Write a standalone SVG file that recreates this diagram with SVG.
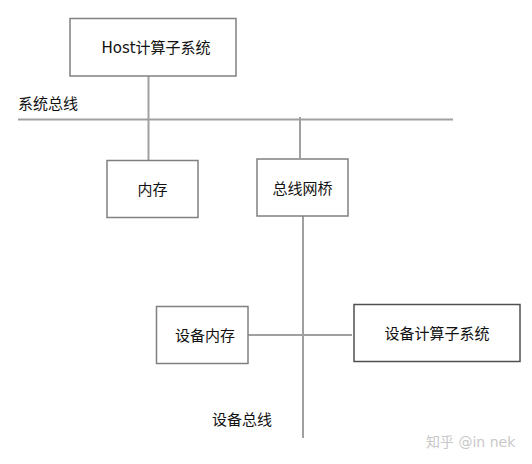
<svg xmlns="http://www.w3.org/2000/svg" width="532" height="464" viewBox="0 0 532 464">
<style>
.box{fill:#fff;stroke:#808080;stroke-width:1.5}
.dark{stroke:#505050}
.ln{stroke:#a0a0a0;stroke-width:2;fill:none}
text{font-family:"DejaVu Sans","Noto Sans CJK SC",sans-serif;font-size:15px;fill:#111}
.c{text-anchor:middle;dominant-baseline:central}
.wm{font-size:14px;fill:#c8c8c8}
</style>
<rect width="532" height="464" fill="#fff"/>
<g id="connectors">
<line class="ln" x1="148.5" y1="76" x2="148.5" y2="160"/>
<line class="ln" x1="18" y1="119.5" x2="453" y2="119.5"/>
<line class="ln" x1="300" y1="117" x2="300" y2="158"/>
<line class="ln" x1="303" y1="216" x2="303" y2="438"/>
<line class="ln" x1="248" y1="335" x2="352" y2="335"/>
</g>
<g id="host"><rect class="box" x="70" y="18.5" width="166" height="57.5"/><text class="c" x="156" y="48">Host计算子系统</text></g>
<g id="sysbus-label"><text x="18" y="109">系统总线</text></g>
<g id="mem"><rect class="box" x="107" y="160.5" width="91" height="57"/><text class="c" x="152.5" y="190">内存</text></g>
<g id="bridge"><rect class="box" x="257" y="159" width="91" height="57"/><text class="c" x="302.5" y="189">总线网桥</text></g>
<g id="devmem"><rect class="box" x="156.5" y="306.5" width="91.5" height="57"/><text class="c" x="205" y="336">设备内存</text></g>
<g id="devcpu"><rect class="box dark" x="354" y="304.5" width="166" height="57"/><text class="c" x="437" y="334">设备计算子系统</text></g>
<g id="devbus-label"><text x="212" y="425">设备总线</text></g>
<text class="wm" x="426" y="447">知乎 @in nek</text>
</svg>
